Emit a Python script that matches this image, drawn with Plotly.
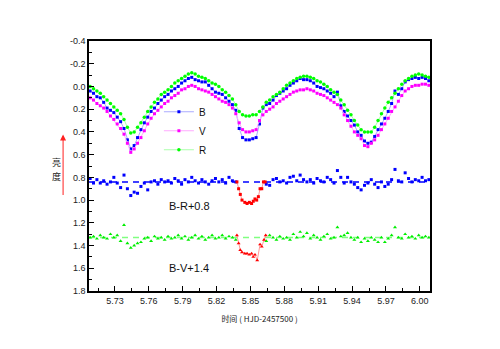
import plotly.graph_objects as go

# time (HJD-2457500)
t = [5.708, 5.711, 5.714, 5.717, 5.720, 5.723, 5.726, 5.729, 5.732, 5.735,
     5.738, 5.741, 5.744, 5.747, 5.750, 5.753, 5.756, 5.759, 5.762, 5.765,
     5.768, 5.771, 5.774, 5.777, 5.780, 5.783, 5.786, 5.789, 5.792, 5.795,
     5.798, 5.801, 5.804, 5.807, 5.810, 5.813, 5.816, 5.819, 5.822, 5.825,
     5.828, 5.831, 5.834, 5.837, 5.840, 5.843, 5.846, 5.849, 5.852, 5.855,
     5.858, 5.861, 5.864, 5.867, 5.870, 5.873, 5.876, 5.879, 5.882, 5.885,
     5.888, 5.891, 5.894, 5.897, 5.900, 5.903, 5.906, 5.909, 5.912, 5.915,
     5.918, 5.921, 5.924, 5.927, 5.930, 5.933, 5.936, 5.939, 5.942, 5.945,
     5.948, 5.951, 5.954, 5.957, 5.960, 5.963, 5.966, 5.969, 5.972, 5.975,
     5.978, 5.981, 5.984, 5.987, 5.990, 5.993, 5.996, 5.999, 6.002, 6.005,
     6.008]

B = [0.04, 0.06, 0.09, 0.10, 0.14, 0.19, 0.21, 0.23, 0.27, 0.31,
     0.37, 0.47, 0.55, 0.52, 0.45, 0.38, 0.32, 0.27, 0.22, 0.19,
     0.15, 0.12, 0.09, 0.07, 0.04, 0.02, 0.00, -0.03, -0.05, -0.07,
     -0.08, -0.06, -0.05, -0.04, -0.04, -0.01, 0.02, 0.05, 0.06, 0.07,
     0.10, 0.13, 0.16, 0.21, 0.37, 0.45, 0.47, 0.47, 0.46, 0.45,
     0.33, 0.19, 0.16, 0.15, 0.12, 0.08, 0.06, 0.04, 0.02, -0.01,
     -0.03, -0.05, -0.07, -0.06, -0.06, -0.05, -0.03, 0.00, 0.01, 0.02,
     0.04, 0.06, 0.09, 0.05, 0.17, 0.22, 0.26, 0.30, 0.34, 0.40,
     0.43, 0.48, 0.50, 0.49, 0.44, 0.38, 0.33, 0.28, 0.22, 0.15,
     0.04, 0.07, 0.02, -0.04, -0.06, -0.07, -0.08, -0.07, -0.08, -0.07,
     -0.05]

V = [0.10, 0.12, 0.15, 0.17, 0.19, 0.22, 0.26, 0.29, 0.33, 0.37,
     0.42, 0.50, 0.58, 0.55, 0.50, 0.45, 0.39, 0.33, 0.28, 0.24,
     0.21, 0.18, 0.15, 0.13, 0.10, 0.08, 0.06, 0.03, 0.02, 0.00,
     -0.01, 0.00, 0.02, 0.03, 0.04, 0.05, 0.07, 0.09, 0.11, 0.13,
     0.14, 0.16, 0.19, 0.24, 0.32, 0.38, 0.40, 0.40, 0.39, 0.38,
     0.30, 0.25, 0.22, 0.20, 0.18, 0.15, 0.13, 0.11, 0.09, 0.07,
     0.05, 0.04, 0.03, 0.03, 0.02, 0.03, 0.04, 0.06, 0.07, 0.08,
     0.10, 0.12, 0.14, 0.16, 0.19, 0.25, 0.30, 0.35, 0.40, 0.43,
     0.46, 0.52, 0.53, 0.50, 0.47, 0.43, 0.38, 0.33, 0.28, 0.22,
     0.18, 0.13, 0.08, 0.04, 0.02, 0.00, -0.01, -0.01, -0.02, -0.02,
     -0.01]

R = [0.00, 0.02, 0.04, 0.06, 0.09, 0.12, 0.15, 0.18, 0.21, 0.24,
     0.29, 0.36, 0.41, 0.40, 0.36, 0.32, 0.27, 0.22, 0.18, 0.14,
     0.11, 0.07, 0.05, 0.03, 0.00, -0.03, -0.05, -0.07, -0.09, -0.11,
     -0.12, -0.11, -0.09, -0.08, -0.07, -0.05, -0.03, -0.02, 0.00, 0.03,
     0.05, 0.08, 0.11, 0.16, 0.22, 0.25, 0.26, 0.26, 0.25, 0.25,
     0.22, 0.18, 0.14, 0.12, 0.09, 0.07, 0.05, 0.02, -0.01, -0.03,
     -0.05, -0.07, -0.08, -0.09, -0.09, -0.08, -0.07, -0.05, -0.04, -0.02,
     0.00, 0.03, 0.05, 0.07, 0.12, 0.16, 0.21, 0.25, 0.30, 0.34,
     0.38, 0.40, 0.40, 0.40, 0.36, 0.30, 0.24, 0.19, 0.14, 0.10,
     0.06, 0.02, -0.02, -0.05, -0.07, -0.09, -0.10, -0.11, -0.10, -0.09,
     -0.08]

# colour indices out of eclipse (None = inside the red segment)
BR = [0.81, 0.85, 0.82, 0.85, 0.83, 0.86, 0.84, 0.80, 0.85, 0.89,
      0.78, 0.90, 0.96, 0.93, 0.94, 0.88, 0.85, 0.91, 0.84, 0.83,
      0.86, 0.82, 0.84, 0.83, 0.85, 0.81, 0.83, 0.86, 0.82, 0.84,
      0.80, 0.83, 0.85, 0.82, 0.84, 0.86, 0.83, 0.81, 0.84, 0.82,
      0.85, 0.80, 0.83, 0.84, None, None, None, None, None, None,
      None, None, 0.86, 0.87, 0.82, 0.81, 0.84, 0.83, 0.85, 0.80,
      0.79, 0.83, 0.78, 0.82, 0.84, 0.82, 0.85, 0.81, 0.83, 0.84,
      0.80, 0.82, 0.85, 0.74, 0.80, 0.85, 0.80, 0.84, 0.86, 0.89,
      0.91, 0.87, 0.85, 0.82, 0.86, 0.89, 0.84, 0.88, 0.86, 0.82,
      0.73, 0.83, 0.84, 0.76, 0.81, 0.84, 0.82, 0.83, 0.80, 0.83,
      0.82]

BV = [1.33, 1.32, 1.34, 1.31, 1.33, 1.34, 1.30, 1.33, 1.31, 1.36,
      1.22, 1.38, 1.42, 1.40, 1.38, 1.37, 1.34, 1.33, 1.36, 1.32,
      1.34, 1.33, 1.35, 1.32, 1.34, 1.33, 1.31, 1.34, 1.32, 1.35,
      1.33, 1.31, 1.34, 1.32, 1.35, 1.33, 1.31, 1.34, 1.33, 1.31,
      1.34, 1.32, 1.33, 1.35, None, None, None, None, None, None,
      None, None, 1.36, 1.31, 1.33, 1.35, 1.32, 1.34, 1.33, 1.35,
      1.30, 1.33, 1.28, 1.32, 1.29, 1.34, 1.31, 1.33, 1.35, 1.32,
      1.30, 1.34, 1.33, 1.24, 1.32, 1.31, 1.29, 1.33, 1.35, 1.33,
      1.37, 1.34, 1.36, 1.33, 1.35, 1.37, 1.33, 1.37, 1.34, 1.31,
      1.24, 1.33, 1.34, 1.30, 1.33, 1.32, 1.34, 1.31, 1.33, 1.32,
      1.33]

# eclipse segment (red)
t_ecl_BR = [5.838, 5.8395, 5.841, 5.8425, 5.845, 5.847, 5.849, 5.851,
            5.8525, 5.854, 5.8555, 5.857, 5.8585, 5.860, 5.8615, 5.863]
BR_ecl = [0.84, 0.90, 0.95, 1.00, 1.02, 1.03, 1.02, 1.03,
          1.01, 0.99, 1.00, 0.97, 0.90, 0.90, 0.84, 0.84]
t_ecl_BV = [5.838, 5.8395, 5.841, 5.8425, 5.845, 5.847, 5.849, 5.851,
            5.8525, 5.854, 5.856, 5.8585, 5.860, 5.862, 5.8635]
BV_ecl = [1.31, 1.38, 1.44, 1.46, 1.47, 1.47, 1.48, 1.47,
          1.50, 1.48, 1.53, 1.39, 1.41, 1.35, 1.31]

ref_BR = 0.84
ref_BV = 1.33
x_range = [5.707, 6.009]

x_ticks = [5.73, 5.76, 5.79, 5.82, 5.85, 5.88, 5.91, 5.94, 5.97, 6.00]
y_ticks = [-0.4, -0.2, 0.0, 0.2, 0.4, 0.6, 0.8, 1.0, 1.2, 1.4, 1.6, 1.8]

fig = go.Figure()

# reference dashed lines
fig.add_trace(go.Scatter(x=x_range, y=[ref_BR, ref_BR], mode="lines",
                         line=dict(color="#0000ff", width=1.5, dash="6px,5px"),
                         showlegend=False, hoverinfo="skip"))
fig.add_trace(go.Scatter(x=x_range, y=[ref_BV, ref_BV], mode="lines",
                         line=dict(color="#80ff80", width=1.5, dash="6px,5px"),
                         showlegend=False, hoverinfo="skip"))

# colour indices
fig.add_trace(go.Scatter(x=t, y=BR, mode="markers",
                         marker=dict(symbol="square", size=3, color="#0000ff"),
                         showlegend=False))
fig.add_trace(go.Scatter(x=t, y=BV, mode="markers",
                         marker=dict(symbol="triangle-up", size=3.5, color="#00ee00"),
                         showlegend=False))
fig.add_trace(go.Scatter(x=t_ecl_BR, y=BR_ecl, mode="lines+markers",
                         line=dict(color="#ff9999", width=1),
                         marker=dict(symbol="square", size=3, color="#ff0000"),
                         showlegend=False))
fig.add_trace(go.Scatter(x=t_ecl_BV, y=BV_ecl, mode="lines+markers",
                         line=dict(color="#ff9999", width=1),
                         marker=dict(symbol="triangle-up", size=3.5, color="#ff0000"),
                         showlegend=False))

# light curves
fig.add_trace(go.Scatter(x=t, y=B, mode="lines+markers", name="B",
                         line=dict(color="#aaaaff", width=1),
                         marker=dict(symbol="square", size=3, color="#0000ff")))
fig.add_trace(go.Scatter(x=t, y=V, mode="lines+markers", name="V",
                         line=dict(color="#ffaaff", width=1),
                         marker=dict(symbol="square", size=3, color="#ff00ff")))
fig.add_trace(go.Scatter(x=t, y=R, mode="lines+markers", name="R",
                         line=dict(color="#aaffaa", width=1),
                         marker=dict(symbol="circle", size=3.5, color="#00ff00")))

axis_font = dict(family="Liberation Sans, Arial, sans-serif", size=9, color="#222222")

fig.update_xaxes(range=x_range, tickvals=x_ticks, ticktext=[f"{v:.2f}" for v in x_ticks],
                 ticks="inside", ticklen=5, tickwidth=1, tickcolor="black",
                 minor=dict(ticks="inside", ticklen=3, dtick=0.015, tick0=5.73, tickcolor="black"),
                 showline=True, linecolor="black", linewidth=1.5, mirror=True,
                 showgrid=False, zeroline=False, tickfont=axis_font,
                 title=dict(text="时间 ( HJD-2457500 )",
                            font=dict(family="Noto Sans CJK SC, sans-serif", size=8, color="#222222"),
                            standoff=12))
fig.update_yaxes(range=[1.8, -0.4], tickvals=y_ticks, ticktext=[f"{v:.1f}" for v in y_ticks],
                 ticks="inside", ticklen=5, tickwidth=1, tickcolor="black",
                 minor=dict(ticks="inside", ticklen=3, dtick=0.1, tick0=-0.4, tickcolor="black"),
                 showline=True, linecolor="black", linewidth=1.5, mirror=True,
                 showgrid=False, zeroline=False, tickfont=axis_font)

fig.add_annotation(text="B-R+0.8", x=5.796, y=1.055, xref="x", yref="y", showarrow=False,
                   font=dict(family="Liberation Sans, Arial, sans-serif", size=11, color="#111111"))
fig.add_annotation(text="B-V+1.4", x=5.796, y=1.60, xref="x", yref="y", showarrow=False,
                   font=dict(family="Liberation Sans, Arial, sans-serif", size=11, color="#111111"))

# y label (stacked characters) and arrow
ylab_font = dict(family="Noto Sans CJK SC, sans-serif", size=9, color="#222222")
fig.add_annotation(text="亮", xref="paper", yref="paper", x=-0.114, y=0.516,
                   showarrow=False, textangle=0, font=ylab_font)
fig.add_annotation(text="度", xref="paper", yref="paper", x=-0.114, y=0.46,
                   showarrow=False, textangle=0, font=ylab_font)
fig.add_annotation(x=-0.076, y=0.626, xref="paper", yref="paper", ax=0, ay=62,
                   text="", showarrow=True, arrowhead=2, arrowsize=1.2, arrowwidth=1,
                   arrowcolor="#ff2020")

fig.update_layout(
    width=500, height=349,
    margin=dict(l=89, r=70, t=41, b=58),
    paper_bgcolor="white", plot_bgcolor="white",
    legend=dict(x=0.205, y=0.775, xanchor="left", yanchor="top",
                bgcolor="rgba(0,0,0,0)", tracegroupgap=0, itemwidth=30,
                font=dict(family="Liberation Sans, Arial, sans-serif", size=10, color="#111111")),
)

fig.write_html("out.html")
